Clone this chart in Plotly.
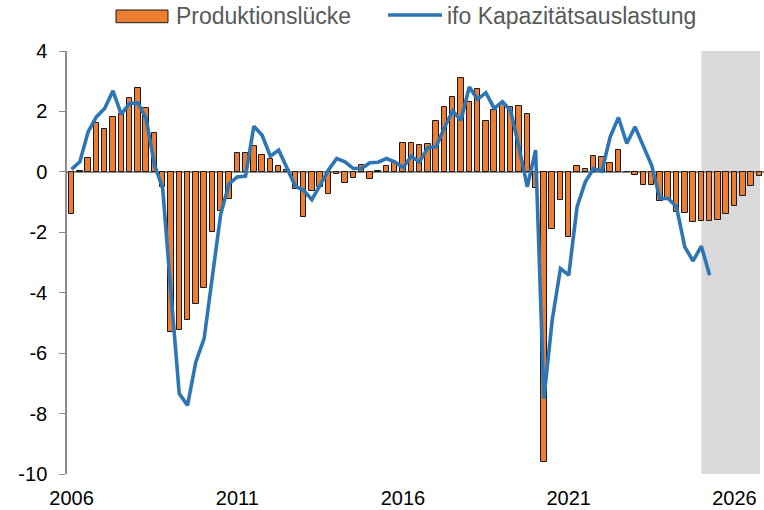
import plotly.graph_objects as go

# quarterly, 2006Q1 .. 2026Q4
start_year = 2006
n_quarters = 84

produktionsluecke = [
    -1.38, 0.02, 0.47, 1.62,
    1.43, 1.80, 1.93, 2.46,
    2.76, 2.11, 1.30, -0.50,
    -5.31, -5.24, -4.89, -4.36,
    -3.86, -1.99, -1.29, -0.91,
    0.63, 0.61, 0.87, 0.57,
    0.44, 0.21, 0.05, -0.57,
    -1.48, -0.63, -0.50, -0.73,
    -0.08, -0.36, -0.19, 0.24,
    -0.25, 0.03, 0.20, 0.28,
    0.97, 0.95, 0.89, 0.92,
    1.67, 2.15, 2.49, 3.12,
    2.31, 2.73, 1.68, 2.04,
    2.27, 2.14, 2.17, 1.90,
    -0.55, -9.60, -1.90, -0.94,
    -2.15, 0.19, 0.08, 0.51,
    0.50, 0.30, 0.71, 0.00,
    -0.09, -0.44, -0.44, -0.95,
    -0.90, -1.32, -1.35, -1.66,
    -1.63, -1.63, -1.58, -1.41,
    -1.14, -0.81, -0.47, -0.13,
]

ifo_kapazitaet = [
    0.08, 0.33, 1.32, 1.82,
    2.10, 2.68, 1.91, 2.26,
    2.28, 1.77, 0.25, -0.55,
    -4.00, -7.34, -7.73, -6.29,
    -5.52, -3.48, -1.40, -0.40,
    -0.17, -0.14, 1.51, 1.21,
    0.52, 0.72, 0.15, -0.47,
    -0.61, -0.92, -0.44, 0.06,
    0.44, 0.33, 0.11, 0.11,
    0.30, 0.32, 0.44, 0.33,
    0.14, 0.52, 0.33, 0.81,
    0.83, 1.47, 2.02, 1.71,
    2.81, 2.40, 2.62, 2.10,
    2.32, 2.02, 0.80, -0.50,
    0.72, -7.51, -4.91, -3.20,
    -3.42, -1.16, -0.33, 0.11,
    0.02, 1.16, 1.80, 0.94,
    1.49, 0.88, 0.22, -0.88,
    -0.88, -1.16, -2.48, -2.95,
    -2.46, -3.42,
]

year_ticks = [2006, 2011, 2016, 2021, 2026]
y_ticks = [-10, -8, -6, -4, -2, 0, 2, 4]
forecast_start = 2025
forecast_end = 2026.77

BAR_COLOR = "#ED7D31"
LINE_COLOR = "#2E75B6"
AXIS_GREY = "#8c8c8c"
LEGEND_GREY = "#595959"

x = [start_year + i / 4 for i in range(n_quarters)]

fig = go.Figure()

# forecast shading
fig.add_shape(
    type="rect", xref="x", yref="y",
    x0=forecast_start, x1=forecast_end, y0=-10, y1=4,
    fillcolor="#d9d9d9", line_width=0, layer="below",
)

fig.add_trace(go.Bar(
    x=x, y=produktionsluecke, name="Produktionslücke",
    width=0.165,
    marker=dict(color=BAR_COLOR, line=dict(color="#1a1a1a", width=1)),
))

fig.add_trace(go.Scatter(
    x=x[:len(ifo_kapazitaet)], y=ifo_kapazitaet, name="ifo Kapazitätsauslastung",
    mode="lines", line=dict(color=LINE_COLOR, width=3.6),
))

# legend drawn by hand so the bar swatch is a wide box like the original
fig.add_shape(type="rect", xref="paper", yref="paper",
              x0=0.0703, x1=0.1449, y0=1.0669, y1=1.0969,
              fillcolor=BAR_COLOR, line=dict(color="#1a1a1a", width=1))
fig.add_shape(type="line", xref="paper", yref="paper",
              x0=0.4605, x1=0.538, y0=1.0851, y1=1.0851,
              line=dict(color=LINE_COLOR, width=3.6))
fig.add_annotation(text="Produktionslücke", xref="paper", yref="paper",
                   x=0.1535, y=1.0816, xanchor="left", yanchor="middle",
                   showarrow=False, font=dict(size=23, color=LEGEND_GREY))
fig.add_annotation(text="ifo Kapazitätsauslastung", xref="paper", yref="paper",
                   x=0.5423, y=1.0816, xanchor="left", yanchor="middle",
                   showarrow=False, font=dict(size=23, color=LEGEND_GREY))

fig.update_layout(
    width=764, height=510,
    margin=dict(l=67, r=0, t=51, b=36),
    plot_bgcolor="white", paper_bgcolor="white",
    font=dict(family="Liberation Sans, Arial, sans-serif", size=20, color="black"),
    showlegend=False,
    bargap=0,
)

fig.update_xaxes(
    range=[2005.864, 2026.89],
    tickvals=year_ticks, ticktext=[str(t) for t in year_ticks],
    showgrid=False, zeroline=False, showline=False, ticks="",
    tickfont=dict(size=20), automargin=False, ticklabelstandoff=10,
)

fig.update_yaxes(
    range=[-10, 4],
    tickvals=y_ticks, ticktext=[str(t) for t in y_ticks],
    showgrid=False, zeroline=True, zerolinecolor=AXIS_GREY, zerolinewidth=2,
    showline=True, linecolor=AXIS_GREY, linewidth=1.5,
    ticks="outside", ticklen=6, tickcolor=AXIS_GREY,
    tickfont=dict(size=20), automargin=False, ticklabelstandoff=8,
)

# drop the default 8px page margin so the figure sits at the window origin
fig.write_html(
    "out.html",
    config={"displayModeBar": False},
    post_script="document.body.style.margin = '0';",
)
